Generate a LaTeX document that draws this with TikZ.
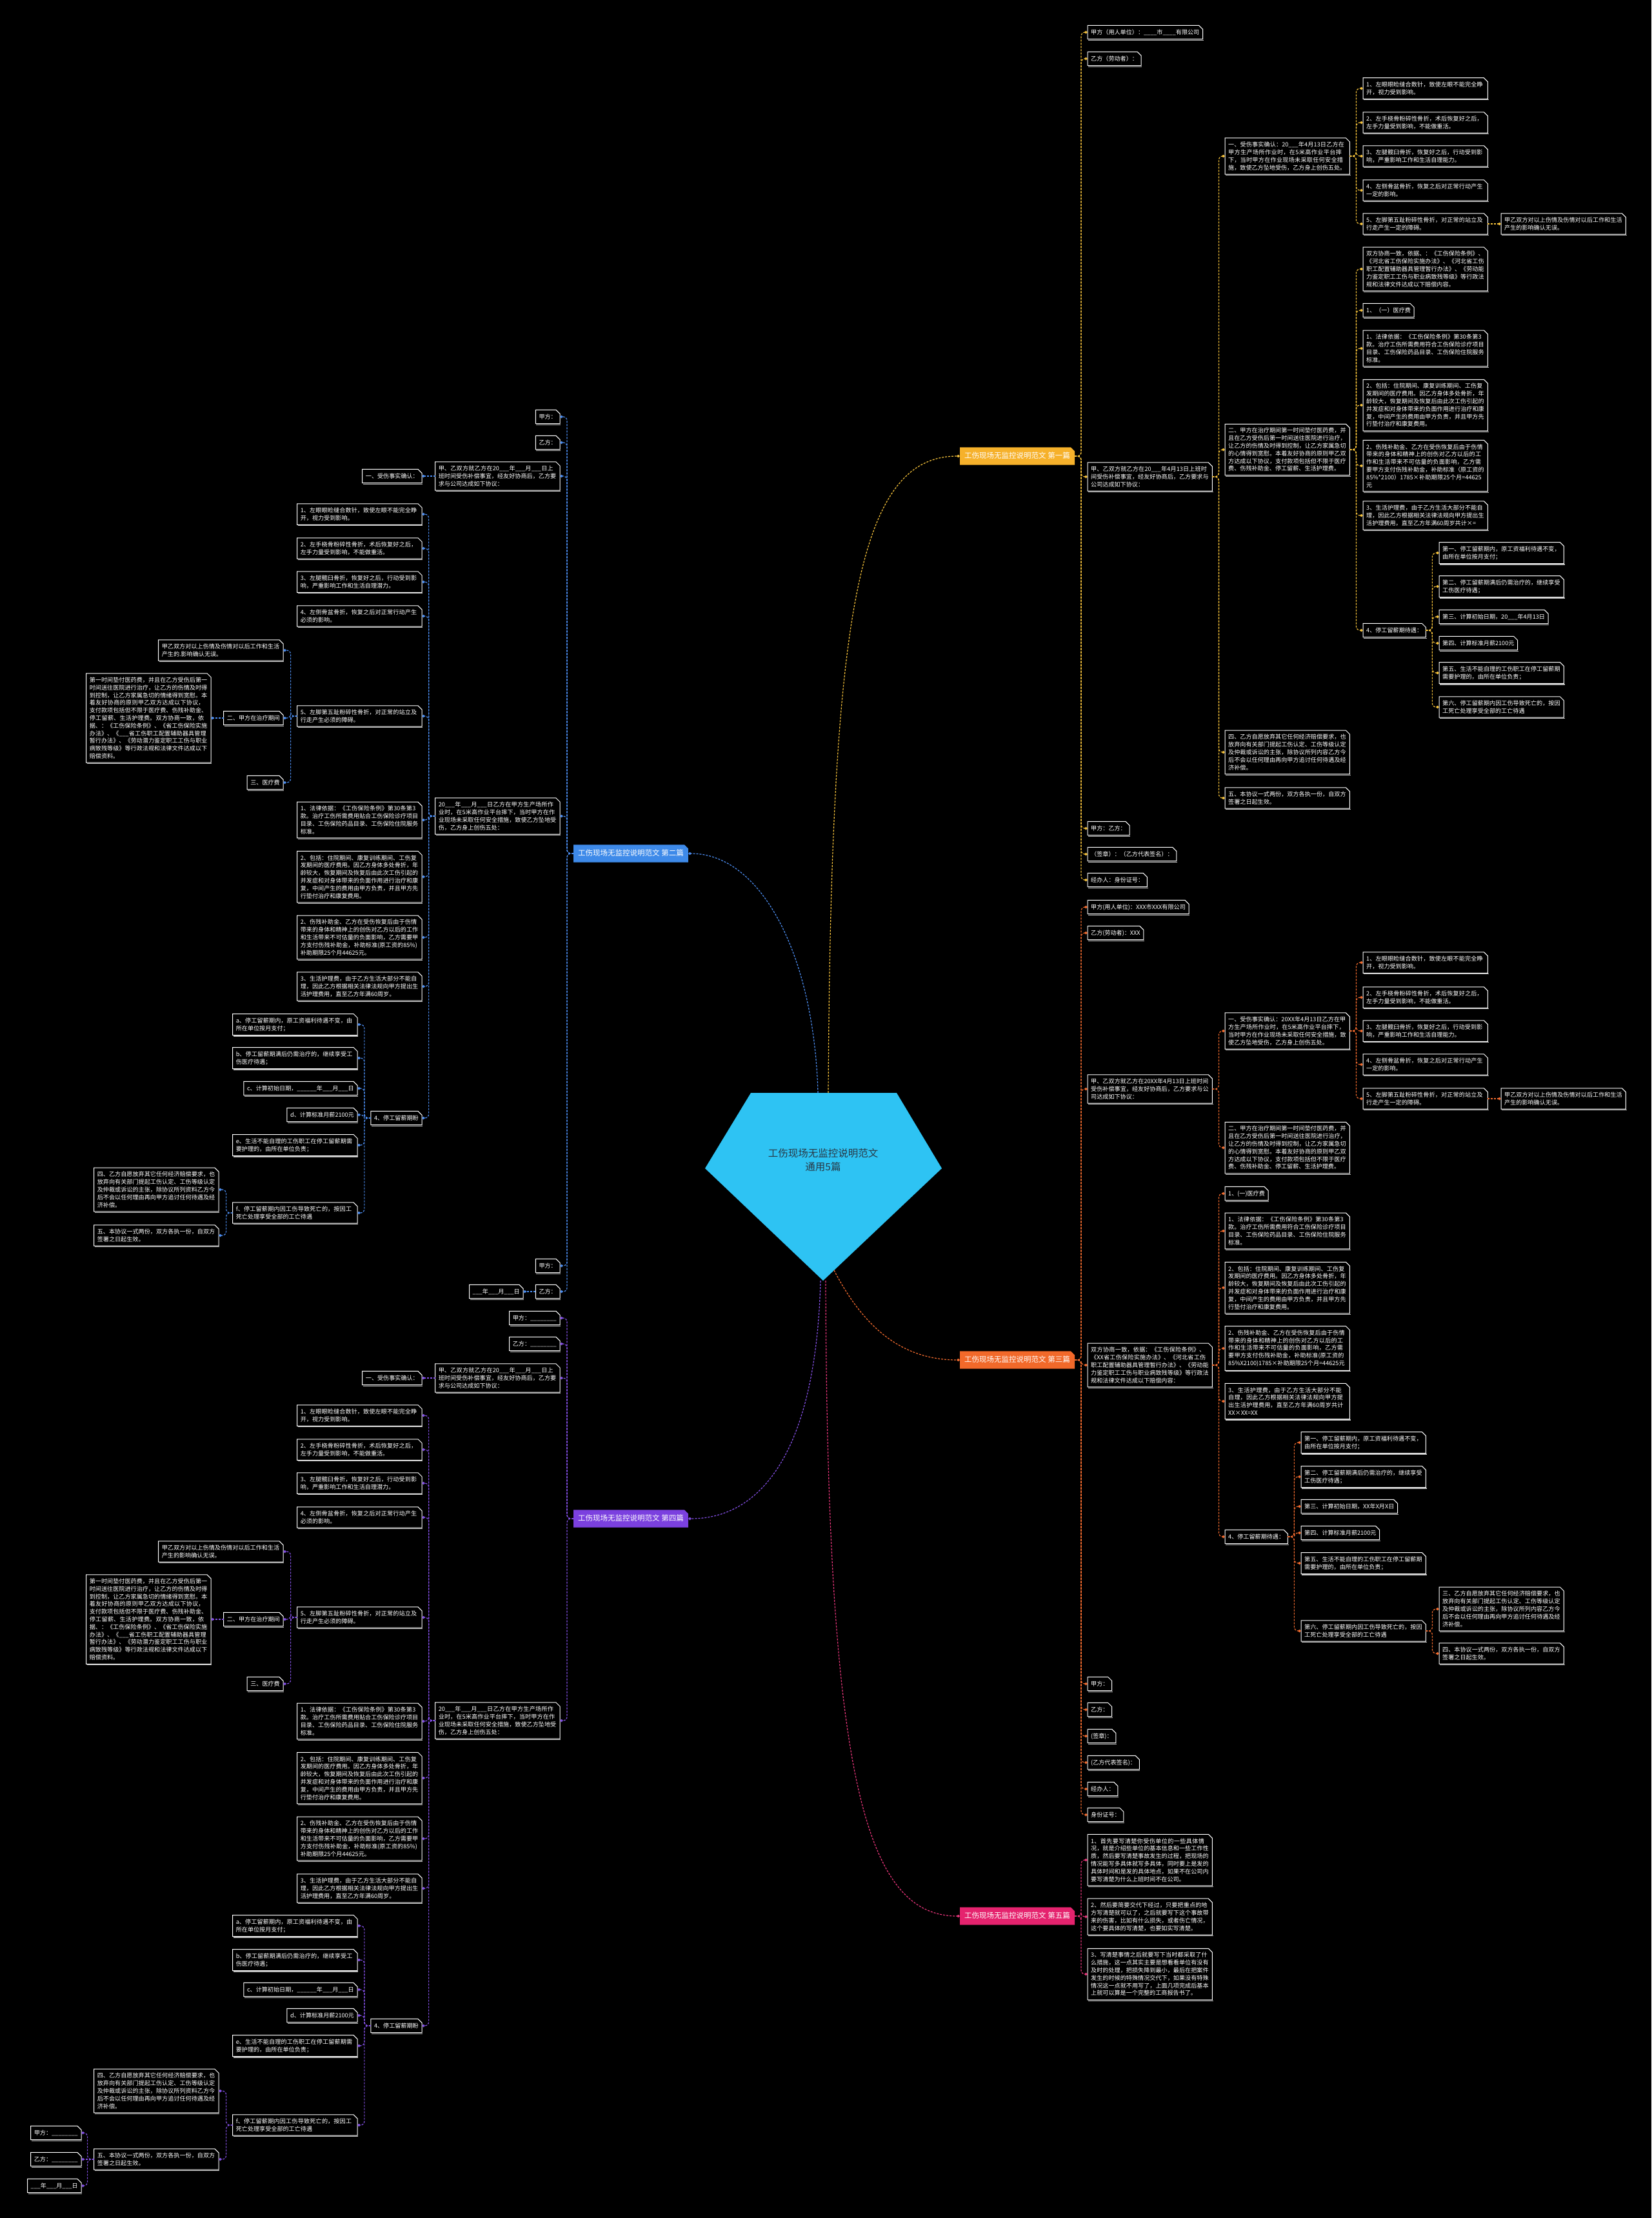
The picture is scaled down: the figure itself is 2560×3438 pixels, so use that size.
\documentclass[tikz,border=0pt]{standalone}
\usepackage{fontspec}
\setmainfont{Noto Sans CJK SC}
\usetikzlibrary{arrows.meta}
\XeTeXlinebreaklocale "zh"
\XeTeXlinebreakskip=0pt plus 1pt
\definecolor{colA}{HTML}{F7C33B}
\definecolor{fillA}{HTML}{F6B12B}
\definecolor{colB}{HTML}{4C8DF0}
\definecolor{fillB}{HTML}{3E8AE9}
\definecolor{colC}{HTML}{F26B2E}
\definecolor{fillC}{HTML}{F2692A}
\definecolor{colD}{HTML}{8450E6}
\definecolor{fillD}{HTML}{7B40DF}
\definecolor{colE}{HTML}{E8357A}
\definecolor{fillE}{HTML}{E5236E}
\definecolor{rootfill}{HTML}{2EC3F3}
\definecolor{roottext}{HTML}{283845}
\pgfdeclarelayer{back}
\pgfsetlayers{back,main}
\tikzset{
 nd/.style={text=white,font=\fontsize{9.1}{11.8}\selectfont,inner xsep=5pt,inner ysep=5.8pt,align=left},
 wbox/.style={text width=183pt},
 sl/.style={text height=7.6pt,text depth=1.6pt},
 boxline/.style={draw=white,line width=1pt,line join=miter},
 shadeline/.style={draw=gray!55,line width=1.2pt},
 lk/.style={dash pattern=on 3pt off 2pt,line width=1.2pt,rounded corners=6pt,-{Diamond[length=5pt,width=4.5pt]}},
 lkA/.style={lk,draw=colA},
 lkB/.style={lk,draw=colB},
 lkC/.style={lk,draw=colC},
 lkD/.style={lk,draw=colD},
 lkE/.style={lk,draw=colE},
 ttlnd/.style={text=white,font=\fontsize{11.5}{14}\selectfont,inner xsep=7pt,inner ysep=7.5pt,text height=9.5pt,text depth=2.5pt},
}
\newcommand\uuu{\_\_\_}
\newcommand\boxit[1]{%
 \draw[shadeline] ([xshift=1pt,yshift=-1.5pt]#1.south west) -- ([xshift=1.2pt,yshift=-1.5pt]#1.south east);
 \draw[boxline] (#1.south west) -- (#1.north west) -- ([xshift=-6pt]#1.north east) -- ([yshift=-6pt]#1.north east) -- (#1.south east) -- cycle;}
\newcommand\putR[5][sl]{\node[nd,#1,anchor=west] (#2) at (#3,#4) {#5};\boxit{#2}}
\newcommand\putL[5][sl]{\node[nd,#1,anchor=east] (#2) at (#3,#4) {#5};\boxit{#2}}
\newcommand\lkR[3]{\draw[#1] (#2.east) -- ++(10,0) |- (#3.west);}
\newcommand\lkL[3]{\draw[#1] (#2.west) -- ++(-10,0) |- (#3.east);}
\newcommand\lkSR[3]{\draw[#1] (#2.east) -- (#3.west);}
\newcommand\lkSL[3]{\draw[#1] (#2.west) -- (#3.east);}
\newcommand\ttl[6]{\node[ttlnd,anchor=#2] (#1) at (#3,#4) {工伤现场无监控说明范文 #5};
 \begin{pgfonlayer}{back}\fill[#6] (#1.south west) -- (#1.north west) -- ([xshift=-6pt]#1.north east) -- ([yshift=-6pt]#1.north east) -- (#1.south east) -- cycle;\end{pgfonlayer}}
% texts
\newcommand\tInjA{1、左眼眼睑缝合数针，致使左眼不能完全睁开，视力受到影响。}
\newcommand\tInjB{2、左手桡骨粉碎性骨折，术后恢复好之后，左手力量受到影响，不能做重活。}
\newcommand\tInjCa{3、左腿髋臼骨折，恢复好之后，行动受到影响，严重影响工作和生活自理能力。}
\newcommand\tInjCb{3、左腿髋臼骨折，恢复好之后，行动受到影响，严重影响工作和生活自理潜力。}
\newcommand\tInjDa{4、左侧骨盆骨折，恢复之后对正常行动产生一定的影响。}
\newcommand\tInjDb{4、左侧骨盆骨折，恢复之后对正常行动产生必须的影响。}
\newcommand\tInjEa{5、左脚第五趾粉碎性骨折，对正常的站立及行走产生一定的障碍。}
\newcommand\tInjEb{5、左脚第五趾粉碎性骨折，对正常的站立及行走产生必须的障碍。}
\newcommand\tConf{甲乙双方对以上伤情及伤情对以后工作和生活产生的影响确认无误。}
\newcommand\tTwo{二、甲方在治疗期间第一时间垫付医药费，并且在乙方受伤后第一时间送往医院进行治疗，让乙方的伤情及时得到控制，让乙方家属急切的心情得到宽慰。本着友好协商的原则甲乙双方达成以下协议，支付款项包括但不限于医疗费、伤残补助金、停工留薪、生活护理费。}
\newcommand\tLawA{1、法律依据：《工伤保险条例》第30条第3款。治疗工伤所需费用符合工伤保险诊疗项目目录、工伤保险药品目录、工伤保险住院服务标准。}
\newcommand\tLawB{1、法律依据：《工伤保险条例》第30条第3款。治疗工伤所需费用贴合工伤保险诊疗项目目录、工伤保险药品目录、工伤保险住院服务标准。}
\newcommand\tIncl{2、包括：住院期间、康复训练期间、工伤复发期间的医疗费用。因乙方身体多处骨折，年龄较大，恢复期间及恢复后由此次工伤引起的并发症和对身体带来的负面作用进行治疗和康复，中间产生的费用由甲方负责，并且甲方先行垫付治疗和康复费用。}
\newcommand\tDisHead{2、伤残补助金、乙方在受伤恢复后由于伤情带来的身体和精神上的创伤对乙方以后的工作和生活带来不可估量的负面影响，乙方需要甲方支付伤残补助金，补助标准}
\newcommand\tLifeHead{3、生活护理费，由于乙方生活大部分不能自理，因此乙方根据相关法律法规向甲方提出生活护理费用，直至乙方年满60周岁}
\newcommand\tSA{第一、停工留薪期内，原工资福利待遇不变，由所在单位按月支付；}
\newcommand\tSB{第二、停工留薪期满后仍需治疗的，继续享受工伤医疗待遇；}
\newcommand\tSE{第五、生活不能自理的工伤职工在停工留薪期需要护理的，由所在单位负责；}
\newcommand\tSF{第六、停工留薪期内因工伤导致死亡的，按因工死亡处理享受全部的工亡待遇}
\newcommand\tGiveUp{乙方自愿放弃其它任何经济赔偿要求，也放弃向有关部门提起工伤认定、工伤等级认定及仲裁或诉讼的主张，除协议所列}
\newcommand\tGiveEnd{乙方今后不会以任何理由再向甲方追讨任何待遇及经济补偿。}
\newcommand\tEnd{本协议一式两份，双方各执一份，自双方签署之日起生效。}
\newcommand\tLong{第一时间垫付医药费，并且在乙方受伤后第一时间送往医院进行治疗，让乙方的伤情及时得到控制，让乙方家属急切的情绪得到宽慰。本着友好协商的原则甲乙双方达成以下协议，支付款项包括但不限于医疗费、伤残补助金、停工留薪、生活护理费。双方协商一致，依据、：《工伤保险条例》、《省工伤保险实施办法》、《\uuu 省工伤职工配置辅助器具管理暂行办法》、《劳动潜力鉴定职工工伤与职业病致残等级》等行政法规和法律文件达成以下赔偿资料。}
\newcommand\tDateL{20\uuu 年\uuu 月\uuu 日乙方在甲方生产场所作业时，在5米高作业平台摔下，当时甲方在作业现场未采取任何安全措施，致使乙方坠地受伤，乙方身上创伤五处：}
\newcommand\tAgreeL{甲、乙双方就乙方在20\uuu 年\uuu 月\uuu 日上班时间受伤补偿事宜，经友好协商后，乙方要求与公司达成如下协议：}
\begin{document}
\begin{tikzpicture}[x=1pt,y=-1pt]
\begin{pgfonlayer}{back}
\fill[black] (0,0) rectangle (2560,3438);
\fill[rootfill] (1164,1694) -- (1390,1694) -- (1460,1811) -- (1276,1985) -- (1093,1811) -- cycle;
\end{pgfonlayer}
\useasboundingbox (0,0) rectangle (2560,3438);
\node[font=\fontsize{15.5}{21}\selectfont,text=roottext,align=center] (root) at (1276,1798) {工伤现场无监控说明范文\\通用5篇};
\ttl{a0}{east}{1666}{707}{第一篇}{fillA}
\ttl{b0}{west}{889}{1323}{第二篇}{fillB}
\ttl{c0}{east}{1666}{2108}{第三篇}{fillC}
\ttl{d0}{west}{889}{2354}{第四篇}{fillD}
\ttl{e0}{east}{1666}{2970}{第五篇}{fillE}
\coordinate (r1) at (1284,1694);
\coordinate (r2) at (1268,1694);
\coordinate (r3) at (1293,1969);
\coordinate (r4) at (1272,1985);
\coordinate (r5) at (1280,1985);
\draw[lkA,rounded corners=0pt] (r1) .. controls (1288,950) and (1330,707) .. (a0.west);
\draw[lkB,rounded corners=0pt] (r2) .. controls (1262,1480) and (1180,1323) .. (b0.east);
\draw[lkC,rounded corners=0pt] (r3) .. controls (1340,2060) and (1400,2108) .. (c0.west);
\draw[lkD,rounded corners=0pt] (r4) .. controls (1265,2250) and (1180,2354) .. (d0.east);
\draw[lkE,rounded corners=0pt] (r5) .. controls (1282,2750) and (1340,2970) .. (e0.west);
%%%%%%%%%%%%%%%% Branch 1
\putR{a1}{1686}{50}{甲方（用人单位）：\_\_\_\_市\_\_\_\_有限公司}
\putR{a2}{1686}{91}{乙方（劳动者）：}
\putR[wbox]{a3}{1686}{739}{甲、乙双方就乙方在20\uuu 年4月13日上班时间受伤补偿事宜，经友好协商后，乙方要求与公司达成如下协议：}
\putR{a4}{1686}{1284}{甲方：乙方：}
\putR{a5}{1686}{1324}{（签章）：（乙方代表签名）：}
\putR{a6}{1686}{1364}{经办人：身份证号：}
\foreach \c in {a1,a2,a3,a4,a5,a6} {\lkR{lkA}{a0}{\c}}
\putR[wbox]{a31}{1899}{242}{一、受伤事实确认：20\uuu 年4月13日乙方在甲方生产场所作业时，在5米高作业平台摔下，当时甲方在作业现场未采取任何安全措施，致使乙方坠地受伤，乙方身上创伤五处。}
\putR[wbox]{a32}{1899}{697}{\tTwo}
\putR[wbox]{a33}{1899}{1166}{四、\tGiveUp 内容\tGiveEnd}
\putR[wbox]{a34}{1899}{1237}{五、\tEnd}
\foreach \c in {a31,a32,a33,a34} {\lkR{lkA}{a3}{\c}}
\putR[wbox]{a311}{2113}{137}{\tInjA}
\putR[wbox]{a312}{2113}{190}{\tInjB}
\putR[wbox]{a313}{2113}{242}{\tInjCa}
\putR[wbox]{a314}{2113}{295}{\tInjDa}
\putR[wbox]{a315}{2113}{347}{\tInjEa}
\foreach \c in {a311,a312,a313,a314,a315} {\lkR{lkA}{a31}{\c}}
\putR[wbox]{a3151}{2327}{347}{\tConf}
\lkSR{lkA}{a315}{a3151}
\putR[wbox]{a321}{2113}{417}{双方协商一致，依据、：《工伤保险条例》、《河北省工伤保险实施办法》、《河北省工伤职工配置辅助器具管理暂行办法》、《劳动能力鉴定职工工伤与职业病致残等级》等行政法规和法律文件达成以下赔偿内容。}
\putR{a322}{2113}{481}{1、（一）医疗费}
\putR[wbox]{a323}{2113}{540}{\tLawA}
\putR[wbox]{a324}{2113}{628}{\tIncl}
\putR[wbox]{a325}{2113}{722}{\tDisHead（原工资的85\%*2100）1785×补助期限25个月=44625元}
\putR[wbox]{a326}{2113}{799}{\tLifeHead 共计×=}
\putR{a327}{2113}{977}{4、停工留薪期待遇：}
\foreach \c in {a321,a322,a323,a324,a325,a326,a327} {\lkR{lkA}{a32}{\c}}
\putR[wbox]{a3271}{2231}{857}{\tSA}
\putR[wbox]{a3272}{2231}{909}{\tSB}
\putR{a3273}{2231}{956}{第三、计算初始日期，20\uuu 年4月13日}
\putR{a3274}{2231}{997}{第四、计算标准月薪2100元}
\putR[wbox]{a3275}{2231}{1043}{\tSE}
\putR[wbox]{a3276}{2231}{1096}{\tSF}
\foreach \c in {a3271,a3272,a3273,a3274,a3275,a3276} {\lkR{lkA}{a327}{\c}}
%%%%%%%%%%%%%%%% Branch 2
\putL{b1}{868}{646}{甲方：}
\putL{b2}{868}{686}{乙方：}
\putL[wbox]{b3}{868}{738}{\tAgreeL}
\putL[wbox]{b4}{868}{1265}{\tDateL}
\putL{b5}{868}{1962}{甲方：}
\putL{b6}{868}{2002}{乙方：}
\foreach \c in {b1,b2,b3,b4,b5,b6} {\lkL{lkB}{b0}{\c}}
\putL{b31}{654}{738}{一、受伤事实确认：}
\lkSL{lkB}{b3}{b31}
\putL{b61}{811}{2002}{\uuu 年\uuu 月\uuu 日}
\lkSL{lkB}{b6}{b61}
\putL[wbox]{b41}{654}{797}{\tInjA}
\putL[wbox]{b42}{654}{850}{\tInjB}
\putL[wbox]{b43}{654}{902}{\tInjCb}
\putL[wbox]{b44}{654}{955}{\tInjDb}
\putL[wbox]{b45}{654}{1110}{\tInjEb}
\putL[wbox]{b46}{654}{1271}{\tLawB}
\putL[wbox]{b47}{654}{1359}{\tIncl}
\putL[wbox]{b48}{654}{1453}{\tDisHead(原工资的85\%)补助期限25个月44625元。}
\putL[wbox]{b49}{654}{1529}{\tLifeHead。}
\putL{b40}{654}{1733}{4、停工留薪期盼}
\foreach \c in {b41,b42,b43,b44,b45,b46,b47,b48,b49,b40} {\lkL{lkB}{b4}{\c}}
\putL[wbox]{b451}{439}{1008}{甲乙双方对以上伤情及伤情对以后工作和生活产生的.影响确认无误。}
\putL{b452}{439}{1113}{二、甲方在治疗期间}
\putL{b453}{439}{1213}{三、医疗费}
\foreach \c in {b451,b452,b453} {\lkL{lkB}{b45}{\c}}
\putL[wbox]{b4521}{327}{1113}{\tLong}
\lkSL{lkB}{b452}{b4521}
\putL[wbox]{b401}{554}{1588}{a、停工留薪期内，原工资福利待遇不变，由所在单位按月支付；}
\putL[wbox]{b402}{554}{1640}{b、停工留薪期满后仍需治疗的，继续享受工伤医疗待遇；}
\putL{b403}{554}{1687}{c、计算初始日期，\uuu\uuu 年\uuu 月\uuu 日}
\putL{b404}{554}{1728}{d、计算标准月薪2100元}
\putL[wbox]{b405}{554}{1775}{e、生活不能自理的工伤职工在停工留薪期需要护理的，由所在单位负责；}
\putL[wbox]{b406}{554}{1880}{f、停工留薪期内因工伤导致死亡的，按因工死亡处理享受全部的工亡待遇}
\foreach \c in {b401,b402,b403,b404,b405,b406} {\lkL{lkB}{b40}{\c}}
\putL[wbox]{b4061}{339}{1844}{四、\tGiveUp 资料\tGiveEnd}
\putL[wbox]{b4062}{339}{1915}{五、\tEnd}
\foreach \c in {b4061,b4062} {\lkL{lkB}{b406}{\c}}
%%%%%%%%%%%%%%%% Branch 3
\putR{c1}{1686}{1406}{甲方(用人单位)：XXX市XXX有限公司}
\putR{c2}{1686}{1446}{乙方(劳动者)：XXX}
\putR[wbox]{c3}{1686}{1688}{甲、乙双方就乙方在20XX年4月13日上班时间受伤补偿事宜，经友好协商后，乙方要求与公司达成如下协议：}
\putR[wbox]{c4}{1686}{2116}{双方协商一致，依据：《工伤保险条例》、《XX省工伤保险实施办法》、《河北省工伤职工配置辅助器具管理暂行办法》、《劳动能力鉴定职工工伤与职业病致残等级》等行政法规和法律文件达成以下赔偿内容：}
\putR{c5}{1686}{2610}{甲方：}
\putR{c6}{1686}{2650}{乙方：}
\putR{c7}{1686}{2691}{(签章)：}
\putR{c8}{1686}{2732}{(乙方代表签名)：}
\putR{c9}{1686}{2773}{经办人：}
\putR{c10}{1686}{2813}{身份证号：}
\foreach \c in {c1,c2,c3,c4,c5,c6,c7,c8,c9,c10} {\lkR{lkC}{c0}{\c}}
\putR[wbox]{c31}{1899}{1598}{一、受伤事实确认：20XX年4月13日乙方在甲方生产场所作业时，在5米高作业平台摔下，当时甲方在作业现场未采取任何安全措施，致使乙方坠地受伤，乙方身上创伤五处。}
\putR[wbox]{c32}{1899}{1779}{\tTwo}
\foreach \c in {c31,c32} {\lkR{lkC}{c3}{\c}}
\putR[wbox]{c311}{2113}{1492}{\tInjA}
\putR[wbox]{c312}{2113}{1546}{\tInjB}
\putR[wbox]{c313}{2113}{1598}{\tInjCa}
\putR[wbox]{c314}{2113}{1650}{\tInjDa}
\putR[wbox]{c315}{2113}{1703}{\tInjEa}
\foreach \c in {c311,c312,c313,c314,c315} {\lkR{lkC}{c31}{\c}}
\putR[wbox]{c3151}{2327}{1703}{\tConf}
\lkSR{lkC}{c315}{c3151}
\putR{c41}{1899}{1850}{1、(一)医疗费}
\putR[wbox]{c42}{1899}{1908}{\tLawA}
\putR[wbox]{c43}{1899}{1996}{\tIncl}
\putR[wbox]{c44}{1899}{2090}{\tDisHead(原工资的85\%X2100)1785×补助期限25个月=44625元}
\putR[wbox]{c45}{1899}{2172}{\tLifeHead 共计XX×XX=XX}
\putR{c46}{1899}{2382}{4、停工留薪期待遇：}
\foreach \c in {c41,c42,c43,c44,c45,c46} {\lkR{lkC}{c4}{\c}}
\putR[wbox]{c461}{2017}{2236}{\tSA}
\putR[wbox]{c462}{2017}{2289}{\tSB}
\putR{c463}{2017}{2335}{第三、计算初始日期，XX年X月X日}
\putR{c464}{2017}{2376}{第四、计算标准月薪2100元}
\putR[wbox]{c465}{2017}{2423}{\tSE}
\putR[wbox]{c466}{2017}{2528}{\tSF}
\foreach \c in {c461,c462,c463,c464,c465,c466} {\lkR{lkC}{c46}{\c}}
\putR[wbox]{c4661}{2231}{2494}{三、\tGiveUp 内容\tGiveEnd}
\putR[wbox]{c4662}{2231}{2563}{四、\tEnd}
\foreach \c in {c4661,c4662} {\lkR{lkC}{c466}{\c}}
%%%%%%%%%%%%%%%% Branch 4
\putL{d1}{868}{2043}{甲方：\_\_\_\_\_\_\_\_}
\putL{d2}{868}{2083}{乙方：\_\_\_\_\_\_\_\_}
\putL[wbox]{d3}{868}{2136}{\tAgreeL}
\putL[wbox]{d4}{868}{2667}{\tDateL}
\foreach \c in {d1,d2,d3,d4} {\lkL{lkD}{d0}{\c}}
\putL{d31}{654}{2136}{一、受伤事实确认：}
\lkSL{lkD}{d3}{d31}
\putL[wbox]{d41}{654}{2194}{\tInjA}
\putL[wbox]{d42}{654}{2247}{\tInjB}
\putL[wbox]{d43}{654}{2299}{\tInjCb}
\putL[wbox]{d44}{654}{2352}{\tInjDb}
\putL[wbox]{d45}{654}{2507}{\tInjEb}
\putL[wbox]{d46}{654}{2668}{\tLawB}
\putL[wbox]{d47}{654}{2756}{\tIncl}
\putL[wbox]{d48}{654}{2850}{\tDisHead(原工资的85\%)补助期限25个月44625元。}
\putL[wbox]{d49}{654}{2927}{\tLifeHead。}
\putL{d40}{654}{3140}{4、停工留薪期盼}
\foreach \c in {d41,d42,d43,d44,d45,d46,d47,d48,d49,d40} {\lkL{lkD}{d4}{\c}}
\putL[wbox]{d451}{439}{2405}{\tConf}
\putL{d452}{439}{2510}{二、甲方在治疗期间}
\putL{d453}{439}{2610}{三、医疗费}
\foreach \c in {d451,d452,d453} {\lkL{lkD}{d45}{\c}}
\putL[wbox]{d4521}{327}{2510}{\tLong}
\lkSL{lkD}{d452}{d4521}
\putL[wbox]{d401}{554}{2985}{a、停工留薪期内，原工资福利待遇不变，由所在单位按月支付；}
\putL[wbox]{d402}{554}{3038}{b、停工留薪期满后仍需治疗的，继续享受工伤医疗待遇；}
\putL{d403}{554}{3084}{c、计算初始日期，\uuu\uuu 年\uuu 月\uuu 日}
\putL{d404}{554}{3124}{d、计算标准月薪2100元}
\putL[wbox]{d405}{554}{3171}{e、生活不能自理的工伤职工在停工留薪期需要护理的，由所在单位负责；}
\putL[wbox]{d406}{554}{3294}{f、停工留薪期内因工伤导致死亡的，按因工死亡处理享受全部的工亡待遇}
\foreach \c in {d401,d402,d403,d404,d405,d406} {\lkL{lkD}{d40}{\c}}
\putL[wbox]{d4061}{339}{3241}{四、\tGiveUp 资料\tGiveEnd}
\putL[wbox]{d4062}{339}{3347}{五、\tEnd}
\foreach \c in {d4061,d4062} {\lkL{lkD}{d406}{\c}}
\putL{d40621}{126}{3306}{甲方：\_\_\_\_\_\_\_\_}
\putL{d40622}{126}{3347}{乙方：\_\_\_\_\_\_\_\_}
\putL{d40623}{126}{3388}{\uuu 年\uuu 月\uuu 日}
\lkL{lkD}{d4062}{d40621}
\lkSL{lkD}{d4062}{d40622}
\lkL{lkD}{d4062}{d40623}
%%%%%%%%%%%%%%%% Branch 5
\putR[wbox]{e1}{1686}{2883}{1、首先要写清楚你受伤单位的一些具体情况，就是介绍些单位的基本信息和一些工作性质，然后要写清楚事故发生的过程，把现场的情况能写多具体就写多具体，同时要上是发的具体时间和是发的具体地点，如果不在公司内要写清楚为什么上班时间不在公司。}
\putR[wbox]{e2}{1686}{2971}{2、然后要简要交代下经过，只要把重点的地方写清楚就可以了，之后就要写下这个事故带来的伤害，比如有什么损失，或者伤亡情况，这个要具体的写清楚，也要如实写清楚。}
\putR[wbox]{e3}{1686}{3060}{3、写清楚事情之后就要写下当时都采取了什么措施，这一点其实主要是想看看单位有没有及时的处理，把损失降到最小，最后在把案件发生的时候的特殊情况交代下，如果没有特殊情况这一点就不用写了，上面几项完成后基本上就可以算是一个完整的工商报告书了。}
\foreach \c in {e1,e2,e3} {\lkR{lkE}{e0}{\c}}
\end{tikzpicture}
\end{document}
